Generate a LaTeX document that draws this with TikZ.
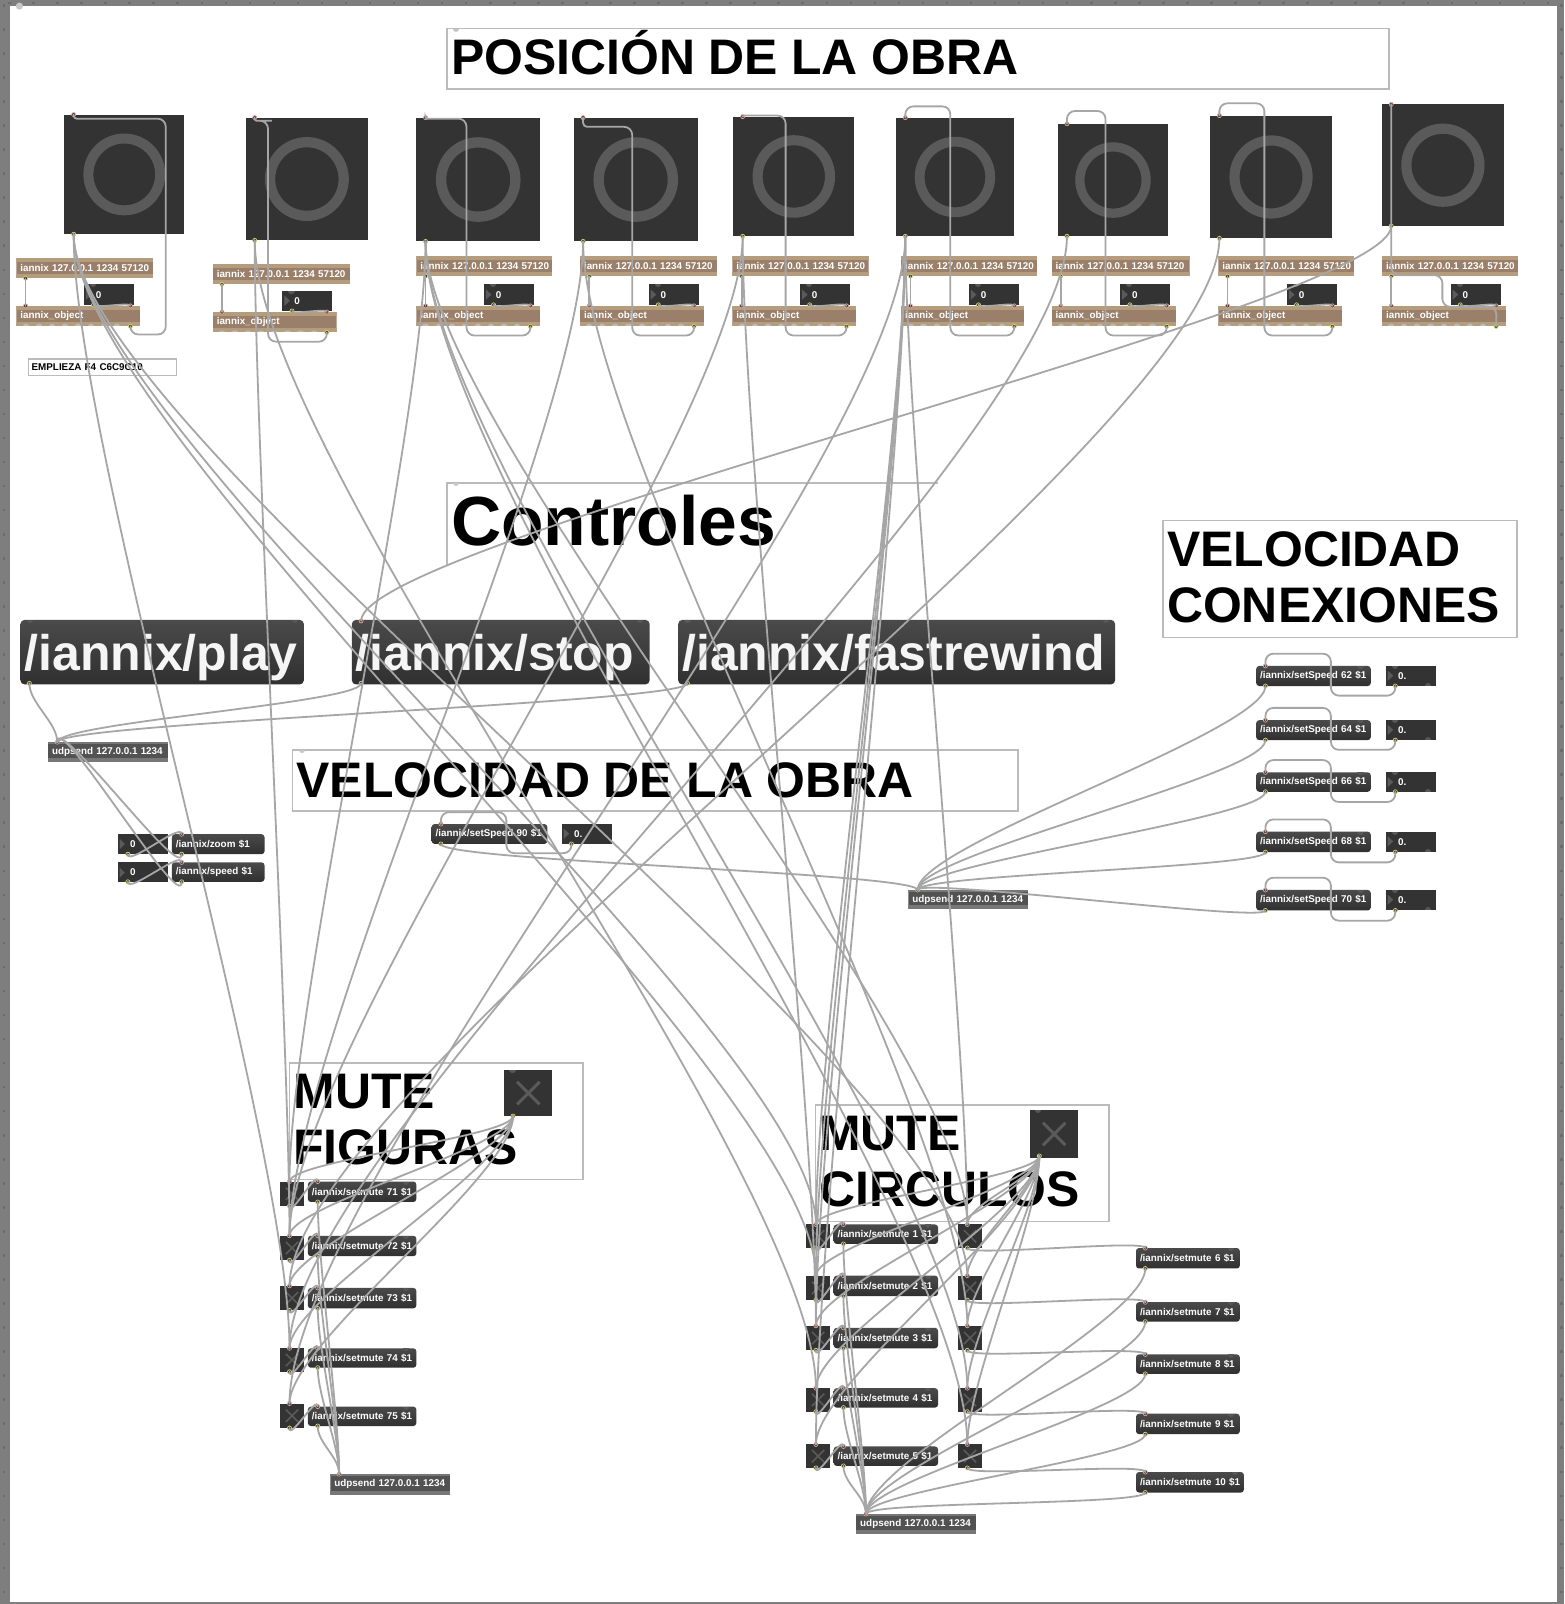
\documentclass[tikz,border=0pt]{standalone}
\usepackage{fontspec}
\setmainfont{Liberation Sans}
\usetikzlibrary{calc}
\definecolor{frame}{HTML}{7E7E7E}
\definecolor{framed}{HTML}{6C6C6C}
\definecolor{cb}{HTML}{BBBBBB}
\definecolor{dark}{HTML}{333333}
\definecolor{ringc}{HTML}{5A5A5A}
\definecolor{wirec}{HTML}{A6A6A6}
\definecolor{tanl}{HTML}{B49C7C}
\definecolor{tand}{HTML}{9A806A}
\definecolor{pinkp}{HTML}{E8A595}
\definecolor{yelp}{HTML}{D8D870}
\definecolor{mtop}{HTML}{4A4A4A}
\definecolor{mbot}{HTML}{303030}
\definecolor{udpb}{HTML}{777777}
\definecolor{dotg}{HTML}{C8C8C8}
\definecolor{doth}{HTML}{575757}
\tikzset{
 small/.style={font=\fontsize{9.85}{12}\selectfont\bfseries,text=white},
 wire/.style={draw=wirec,line width=1.8pt,line cap=round},
 cord/.style={wire,to path={let \p1=(\tikztostart),\p2=(\tikztotarget),\n1={0.18*abs(\y2-\y1)+#1} in
   .. controls ({\x1},{\y1-(\n1)}) and ({\x2},{\y2+(\n1)}) .. (\tikztotarget)}},
 cord/.default=9,
 loopw/.style={wire,rounded corners=8pt},
 boxn/.style={inner sep=0pt,outer sep=0pt,anchor=north west},
 tanbox/.style={small,path picture={
   \fill[tand] (path picture bounding box.north west) rectangle (path picture bounding box.south east);
   \fill[tanl] (path picture bounding box.north west) rectangle ($(path picture bounding box.north east)+(0pt,-4pt)$);
   \fill[tanl] (path picture bounding box.south west) rectangle ($(path picture bounding box.south east)+(0pt,4pt)$);}},
 udpbox/.style={small,path picture={
   \fill[dark!85!white] (path picture bounding box.north west) rectangle (path picture bounding box.south east);
   \fill[udpb] (path picture bounding box.north west) rectangle ($(path picture bounding box.north east)+(0pt,-2pt)$);
   \fill[udpb] (path picture bounding box.south west) rectangle ($(path picture bounding box.south east)+(0pt,4pt)$);}},
 msgbox/.style={small,rounded corners=3pt,top color=mtop,bottom color=mbot},
 numbox/.style={small,fill=dark},
 bigbtn/.style={font=\fontsize{50}{56}\selectfont\bfseries,text=white!96!black,rounded corners=4pt,top color=mtop,bottom color=mbot},
 comm/.style={draw=cb,line width=1.5pt,font=\fontsize{49.9}{56.3}\selectfont\bfseries,text=black},
 tog/.style={fill=dark},
}
% style, name, x0, y0, x1, y1, text (left aligned, text in one box)
\newcommand\bx[7]{%
 \pgfmathsetmacro\WW{(#5-#3)*1.0229}\pgfmathsetmacro\HH{(#6-#4)*1.0229}%
 \node[boxn,#1,inner xsep=4pt,minimum height=\HH pt,text width=\WW pt-8pt,align=left] (#2) at (#3,#4) {#7};}
\newcommand\sm[1]{\mbox{#1}}
\newcommand\tightw{\spaceskip=.271em\relax}
% one line of text whose baseline lies #1 below the middle of its box
\newcommand\ct[2]{\leavevmode\setbox0=\hbox{\lower#1\hbox{#2}}\ht0=0pt \dp0=0pt \box0 }
\newcommand\lowr{\rule[-3.2pt]{0pt}{1pt}}
% half-dot on an edge: x, y, direction (+1 down, -1 up), colour
\newcommand\hdot[4]{\fill[#4] ({#1-3},#2) .. controls ({#1-3},{#2+4*(#3)}) and ({#1+3},{#2+4*(#3)}) .. ({#1+3},#2) -- cycle;}
\newcommand\inl[3]{\coordinate (#1) at (#2,#3);\filldraw[draw=pinkp,fill=dark,line width=.7pt] (#2,#3) circle (2);}
\newcommand\outl[3]{\coordinate (#1) at (#2,#3);\filldraw[draw=yelp,fill=dark,line width=.7pt] (#2,#3) circle (2);}
% toggle: name, x0, y0, x1, y1, X half-span, X width
\newcommand\togg[7]{%
 \pgfmathsetmacro\WW{(#4-#2)*1.0229}\pgfmathsetmacro\HH{(#5-#3)*1.0229}%
 \pgfmathsetmacro\CX{(#2+#4)/2}\pgfmathsetmacro\CY{(#3+#5)/2}%
 \node[boxn,tog,minimum width=\WW pt,minimum height=\HH pt] (#1) at (#2,#3) {};
 \draw[ringc,line width=#7] ({\CX-#6},{\CY-#6}) -- ({\CX+#6},{\CY+#6}) ({\CX-#6},{\CY+#6}) -- ({\CX+#6},{\CY-#6});}
\begin{document}
\begin{tikzpicture}[x=1.0229pt,y=-1.0229pt]
\useasboundingbox (0,0) rectangle (1529,1568);
\fill[frame] (0,0) rectangle (1529,1568);
\foreach \i in {0,...,66}{\fill[framed] (2.5,{4+23.5*\i}) rectangle (5,{6.5+23.5*\i});
 \fill[framed] (1525,{4+23.5*\i}) rectangle (1527.5,{6.5+23.5*\i});}
\foreach \i in {0,...,64}{\fill[framed] ({8+23.5*\i},1.5) rectangle ({10.5+23.5*\i},3.5);}
\fill[white] (9.8,5.9) rectangle (1522,1566);
\fill[dotg] (19,6) circle (3.5);

% comments
\bx{comm}{cPos}{437}{28}{1358}{87}{\ct{15.2pt}{\tightw POSICIÓN DE LA OBRA}}
\hdot{446}{28}{1}{dotg}
\node[boxn,inner xsep=4pt,minimum width=491pt,minimum height=82pt,align=left,font=\fontsize{69.6}{76}\selectfont\bfseries,text width=483pt] (cCtl) at (437,472) {\ct{22pt}{Controles}};
\draw[cb,line width=1.5pt] (cCtl.south west) -- (cCtl.north west) -- (cCtl.north east);
\hdot{446}{472}{1}{dotg}
\bx{comm}{cVel}{1137}{509}{1483}{623}{VELOCIDAD\\CONEXIONES\lowr}
\bx{comm}{cObr}{286}{733}{995}{793}{\tightw VELOCIDAD DE LA OBRA}
\hdot{295}{733}{1}{dotg}
\bx{comm}{cFig}{283}{1039}{570}{1153}{MUTE\\FIGURAS\lowr}
\bx{comm}{cCir}{797}{1080}{1084}{1194}{MUTE\\CIRCULOS\lowr}
\node[boxn,draw=cb,line width=1.5pt,inner xsep=3pt,minimum height=16.5pt,text width=142pt,align=left,font=\fontsize{9.85}{12}\selectfont\bfseries] (cEmp) at (28,351) {EMPLIEZA F4 C6C9C10};

% dial groups
\foreach \k/\xa/\ya/\xb/\yb/\ix/\iy/\ixe/\nx/\ny/\oy/\oxe in {
 1/63/112/180/229/16/252/150/82/278/299/137,
 2/240/115/360/235/208/258/342/276/284/305/329,
 3/407/115/528/236/407/250/540/473/278/299/528,
 4/561/115/682/236/567/250/701/634/278/299/688,
 5/717/114/835/231/716/250/849/782/278/299/837,
 6/876/115/991/231/881/250/1014/947/278/299/1001,
 7/1034/121/1142/231/1028/250/1163/1095/278/299/1150,
 8/1183/113/1302/233/1191/250/1324/1258/278/299/1312,
 9/1351/102/1470/221/1351/250/1484/1418/278/299/1472}{
 \pgfmathsetmacro\WW{(\xb-\xa)*1.0229}\pgfmathsetmacro\HH{(\yb-\ya)*1.0229}
 \pgfmathsetmacro\CX{(\xa+\xb)/2}\pgfmathsetmacro\CY{(\ya+\yb)/2}
 \pgfmathsetmacro\RR{0.30*(\xb-\xa)}\pgfmathsetmacro\SW{10*(\xb-\xa)/117}
 \node[boxn,fill=dark,minimum width=\WW pt,minimum height=\HH pt] (D\k) at (\xa,\ya) {};
 \draw[ringc,line width=\SW pt] (\CX,\CY) circle (\RR);
 \bx{tanbox}{I\k}{\ix}{\iy}{\ixe}{\iy+20}{\sm{iannix 127.0.0.1 1234 57120}}
 \pgfmathsetmacro\NE{\nx+49}\pgfmathsetmacro\NY{\ny+20}
 \bx{numbox}{N\k}{\nx}{\ny}{\NE}{\NY}{\hspace*{8pt}\sm{0}}
 \fill[ringc] ({\nx+2},{\ny+5}) -- ({\nx+7.5},{\ny+10}) -- ({\nx+2},{\ny+15}) -- cycle;
 \hdot{\nx+9}{\ny}{1}{doth}
 \pgfmathsetmacro\OY{\oy+20}
 \bx{tanbox}{O\k}{\ix}{\oy}{\oxe}{\OY}{\sm{iannix\_object}}
 \foreach \i in {0,...,7}{\hdot{\ix+9+12.8*\i}{\OY}{-0.7}{cb}}
 \inl{D\k i}{\xa+9}{\ya}
 \outl{D\k o}{\xa+9}{\yb}
 \outl{I\k o}{\ix+9}{\iy+20}
 \inl{O\k i}{\ix+9}{\oy}
 \outl{N\k o}{\nx+9.5}{\NY}
 \inl{O\k r}{\oxe-9.5}{\oy}
 \outl{O\k o}{\oxe-9.5}{\OY}
}

% big buttons
\bx{bigbtn}{Bpl}{20}{606}{297}{669}{\ct{17.9pt}{/iannix/play}}
\bx{bigbtn}{Bst}{344}{606}{635}{669}{\ct{17.9pt}{/iannix/stop}}
\bx{bigbtn}{Bre}{663}{606}{1090}{669}{\ct{17.9pt}{/iannix/fastrewind}}
\foreach \x in {29,288,353,626,672,1081}{\hdot{\x}{606}{1}{doth}}
\inl{Bsti}{353}{607}
\outl{Bplo}{28.7}{668}
\outl{Bsto}{353}{668}
\outl{Breo}{672}{668}

% top udpsend + zoom/speed
\bx{udpbox}{U}{47}{725.5}{164.5}{745}{\sm{udpsend 127.0.0.1 1234}}
\inl{Ui}{56}{725.5}
\bx{numbox}{Nz}{115.4}{815.5}{164.5}{835}{\hspace*{8pt}\sm{0}}
\bx{numbox}{Ns}{115.4}{843}{164.5}{862}{\hspace*{8pt}\sm{0}}
\fill[ringc] (117,820) -- (122,825) -- (117,830) -- cycle;
\fill[ringc] (117,848) -- (122,853) -- (117,858) -- cycle;
\bx{msgbox}{Mz}{168}{815.5}{258.6}{835}{\sm{/iannix/zoom \$1}}
\bx{msgbox}{Ms}{168}{843}{258.6}{862}{\sm{/iannix/speed \$1}}
\outl{Nzo}{125}{835}\outl{Nso}{125}{862}
\inl{Mzi}{177.6}{815.5}\inl{Msi}{177.6}{843}
\outl{Mzo}{177.6}{835}\outl{Mso}{177.6}{862}

% setSpeed 90
\bx{msgbox}{V}{422}{805.5}{535}{825}{\sm{/iannix/setSpeed 90 \$1}}
\bx{numbox}{Vn}{549.6}{805.5}{598}{825}{\hspace*{8pt}\sm{0.}}
\fill[ringc] (551,810) -- (556.5,815) -- (551,820) -- cycle;
\inl{Vi}{431}{805.5}\outl{Vo}{431}{825}\outl{Vno}{558.6}{825}

% setSpeed rows
\bx{udpbox}{US}{888}{870}{1005}{889}{\sm{udpsend 127.0.0.1 1234}}
\inl{USi}{897}{870}
\foreach \k/\ya/\yb/\t in {1/651/670.6/62,2/704/723.5/64,3/755/774/66,4/813/833/68,5/870/890/70}{
 \bx{msgbox}{S\k}{1228}{\ya}{1340}{\yb}{\sm{/iannix/setSpeed \t\ \$1}}
 \bx{numbox}{Sn\k}{1355}{\ya}{1404}{\yb}{\hspace*{8pt}\sm{0.}}
 \fill[ringc] (1356.5,{\ya+4.5}) -- (1362,{\ya+9.5}) -- (1356.5,{\ya+14.5}) -- cycle;
 \hdot{1364}{\ya}{1}{doth}\hdot{1396}{\yb}{-1}{doth}\hdot{1330}{\ya}{1}{doth}
 \inl{S\k i}{1237}{\ya}\outl{S\k o}{1237}{\yb}\outl{Sn\k o}{1364}{\yb}
}

% MUTE FIGURAS
\togg{Fm}{493}{1046}{540}{1091}{11}{3pt}
\hdot{501}{1046}{1}{doth}
\outl{Fmo}{501.5}{1091}
\foreach \k/\ya/\yb/\ma/\mb/\t in {1/1155/1179/1155/1175/71,2/1208/1232/1208/1228/72,3/1257/1281/1259/1279/73,4/1318/1341/1318/1337/74,5/1372/1396/1375/1394/75}{
 \togg{F\k}{274}{\ya}{297}{\yb}{6}{1.6pt}
 \bx{msgbox}{P\k}{301}{\ma}{407}{\mb}{\sm{/iannix/setmute \t\ \$1}}
 \hdot{397}{\ma}{1}{doth}
 \inl{F\k i}{283}{\ya}\outl{F\k o}{283}{\yb}
 \inl{P\k i}{310.6}{\ma}\outl{P\k o}{310.6}{\mb}
}
\bx{udpbox}{UF}{323}{1441}{440}{1461}{\sm{udpsend 127.0.0.1 1234}}
\inl{UFi}{331.5}{1441}

% MUTE CIRCULOS
\togg{Cm}{1007}{1085}{1054}{1132}{11}{3pt}
\hdot{1015}{1085}{1}{doth}
\outl{Cmo}{1016}{1130}
\foreach \k/\ya/\yb/\ma/\mb/\t in {1/1197/1220/1197/1216/1,2/1247/1271/1247/1267/2,3/1296/1320/1298/1318/3,4/1357/1380/1357/1376/4,5/1412/1435/1414/1433/5}{
 \togg{L\k}{788}{\ya}{811.5}{\yb}{6}{1.6pt}
 \togg{R\k}{936.5}{\ya}{960}{\yb}{6}{1.6pt}
 \bx{msgbox}{Q\k}{815}{\ma}{917}{\mb}{\sm{/iannix/setmute \t\ \$1}}
 \hdot{907}{\ma}{1}{doth}
 \inl{L\k i}{797.6}{\ya}\outl{L\k o}{797.6}{\yb}
 \inl{R\k i}{945.6}{\ya}\outl{R\k o}{945.6}{\yb}
 \inl{Q\k i}{824.5}{\ma}\outl{Q\k o}{824.5}{\mb}
}
\foreach \k/\ya/\yb/\t/\xe in {1/1220/1240/6/1212,2/1273/1292/7/1212,3/1324/1343/8/1212,4/1382/1402/9/1212,5/1439/1459/10/1216}{
 \bx{msgbox}{W\k}{1110.5}{\ya}{\xe}{\yb}{\sm{/iannix/setmute \t\ \$1}}
 \hdot{\xe-9}{\ya}{1}{doth}
 \inl{W\k i}{1119.6}{\ya}\outl{W\k o}{1119.6}{\yb}
}
\bx{udpbox}{UC}{837}{1480}{954}{1500}{\sm{udpsend 127.0.0.1 1234}}
\inl{UCi}{846.5}{1480}

% ---------- connectors ----------
\foreach \k in {1,...,9}{
 \draw[wire] (I\k o) -- (O\k i);
 \draw[cord=4] (N\k o) to (O\k r);
}
\draw[loopw] (O1o) |- (162,327) -- (162,116) -- (84,116) [rounded corners=3pt] -| (D1i);
\draw[loopw] (O2o) |- (262,334) -- (262,118) -- (258,118) [rounded corners=2pt] -| (D2i);
\draw[loopw] (O3o) |- (456,328) -- (456,116) -- (428,116) [rounded corners=2pt] -| (D3i);
\draw[loopw] (O4o) |- (618,328) -- (618,124) -- (582,124) [rounded corners=4pt] -| (D4i);
\draw[loopw] (O5o) |- (768,328) -- (768,113) -- (738,113) [rounded corners=1pt] -| (D5i);
\draw[loopw] (O6o) |- (929,328) -- (929,104) -| (D6i);
\draw[loopw] (O7o) |- (1080.7,328) -- (1080.7,108.5) -| (D7i);
\draw[loopw] (O8o) |- (1236,328) -- (1236,101) -| (D8i);
\draw[loopw] (O9o) -- (1463,300) -- (1410,300) -- (1410,269) -- (1360,269) -- (D9i);

\foreach \a/\b in {Bplo/Ui,Bsto/Ui,Breo/Ui,Mzo/Ui,Mso/Ui,D9o/Bsti,Vo/USi,
 D1o/F4i,D2o/F2i,D3o/F1i,D4o/F2i,D5o/F2i,D6o/F5i,D7o/F4i,D8o/F3i,
 D1o/L1i,D1o/L2i,D1o/R2i,D2o/L4i,D3o/R1i,D3o/R4i,D3o/R5i,D4o/R3i,D5o/L3i,
 D6o/L1i,D6o/L2i,D6o/L3i,D6o/L5i,D6o/R1i,
 Fmo/F1i,Fmo/F2i,Fmo/F3i,Fmo/F4i,Fmo/F5i,
 Cmo/L1i,Cmo/L2i,Cmo/L3i,Cmo/L4i,Cmo/L5i,Cmo/R1i,Cmo/R2i,Cmo/R3i,Cmo/R4i,Cmo/R5i,
 P1o/UFi,P2o/UFi,P3o/UFi,P4o/UFi,P5o/UFi,
 Q1o/UCi,Q2o/UCi,Q3o/UCi,Q4o/UCi,Q5o/UCi,
 W1o/UCi,W2o/UCi,W3o/UCi,W4o/UCi,W5o/UCi,
 S1o/USi,S2o/USi,S3o/USi,S4o/USi,S5o/USi,
 R1o/W1i,R2o/W2i,R3o/W3i,R4o/W4i,R5o/W5i,
 Nzo/Mzi,Nso/Msi,
 F1o/P1i,F2o/P2i,F3o/P3i,F4o/P4i,F5o/P5i,
 L1o/Q1i,L2o/Q2i,L3o/Q3i,L4o/Q4i,L5o/Q5i}{
 \draw[cord] (\a) to (\b);
}
\draw[loopw] (Vno) |- (495,834) -- (495,794) -| (Vi);
\foreach \k/\ya/\yb in {1/639/680,2/692/733,3/743/784,4/801/843,5/858/900}{
 \draw[loopw] (Sn\k o) |- (1301,\yb) -- (1301,\ya) -| (S\k i);
}
\end{tikzpicture}
\end{document}
